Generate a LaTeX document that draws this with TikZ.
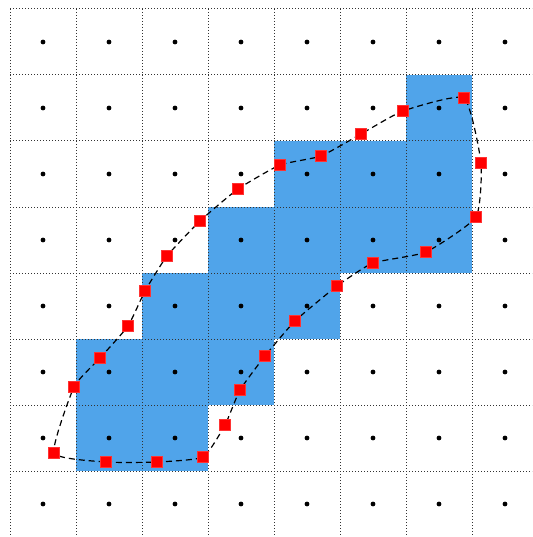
\documentclass[tikz,border=0pt]{standalone}
\usetikzlibrary{calc}
\definecolor{cellblue}{RGB}{80,164,234}
\tikzset{
    gridline/.style={dotted, line width=1pt, black!80},
    centerdot/.style={fill=black},
    marker/.style={fill=red, draw=red!80!white, line width=0.3pt, minimum size=11pt, inner sep=0pt},
    boundary/.style={dashed, dash pattern=on 6pt off 4pt, line width=1.2pt}
}
\begin{document}
\begin{tikzpicture}[x=1pt, y=-1pt]
    \useasboundingbox (0,0) rectangle (532,537);

    % Constants
    \pgfmathsetmacro{\xzero}{10}
    \pgfmathsetmacro{\yzero}{9}
    \pgfmathsetmacro{\h}{66}

    % Cells inside the contour (column/row)
    \foreach \c/\r in {6/1, 4/2, 5/2, 6/2, 3/3, 4/3, 5/3, 6/3, 2/4, 3/4, 4/4, 1/5, 2/5, 3/5, 1/6, 2/6}
        \fill [cellblue] ({\xzero+\c*\h},{\yzero+\r*\h}) rectangle ++(\h,\h);

    % Grid
    \foreach \i in {0,...,7} {
        \draw [gridline] ({\xzero+\i*\h},\yzero) -- ({\xzero+\i*\h},537);
        \draw [gridline] (\xzero,{\yzero+\i*\h}) -- (532,{\yzero+\i*\h});
    }

    % Cell centres
    \foreach \i in {0,...,7}
        \foreach \j in {0,...,7}
            \fill [centerdot] ({\xzero+\h/2+\i*\h},{\yzero+\h/2+\j*\h}) circle [radius=2.4pt];

    % Contour points
    \foreach \x/\y [count=\k] in {54/453, 106/462, 157/462, 203/457, 225/425, 240/390, 265/356,
        295/321, 337/286, 373/263, 426/252, 476/217, 481/163, 464/98, 403/111, 361/134,
        321/156, 280/165, 238/189, 200/221, 167/256, 145/291, 128/326, 100/358, 74/387}
        \coordinate (p\k) at (\x,\y);

    % Contour
    \draw [boundary] plot [smooth cycle, tension=0.3] coordinates {(p1) (p2) (p3) (p4) (p5) (p6) (p7)
        (p8) (p9) (p10) (p11) (p12) (p13) (p14) (p15) (p16) (p17) (p18) (p19) (p20) (p21) (p22)
        (p23) (p24) (p25)};

    % Markers
    \foreach \k in {1,...,25}
        \node [marker] (m\k) at (p\k) {};

\end{tikzpicture}
\end{document}
